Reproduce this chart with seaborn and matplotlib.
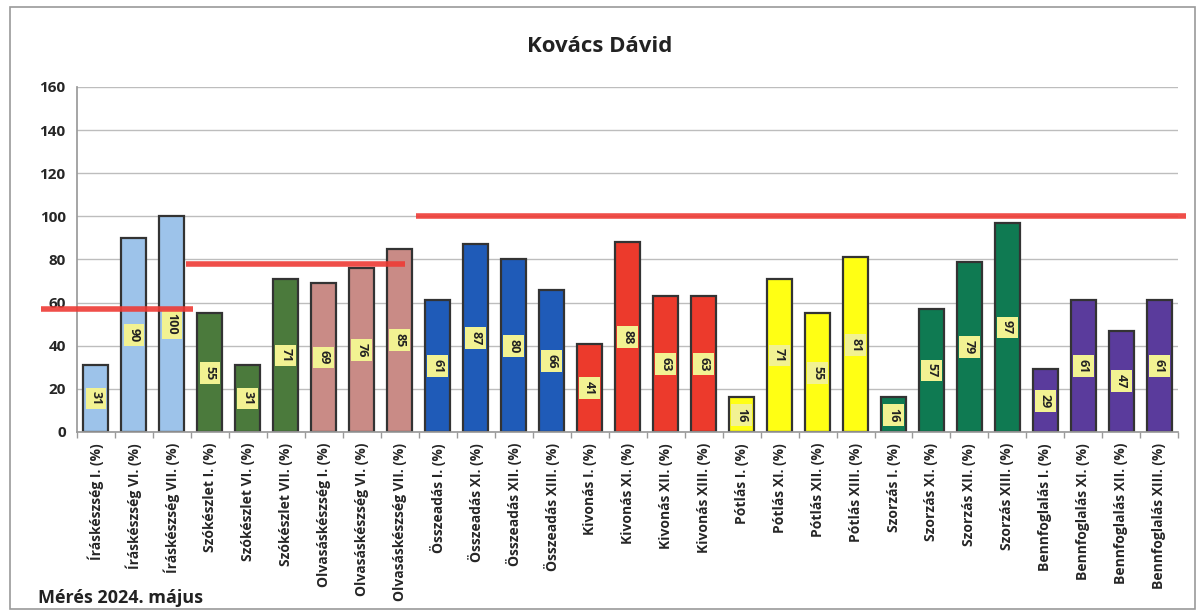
import matplotlib
matplotlib.use("Agg")
import matplotlib.pyplot as plt
import seaborn as sns
import pandas as pd
import numpy as np
from matplotlib.patches import Rectangle

categories = [
    "Íráskészség I. (%)", "Íráskészség VI. (%)", "Íráskészség VII. (%)",
    "Szókészlet I. (%)", "Szókészlet VI. (%)", "Szókészlet VII. (%)",
    "Olvasáskészség I. (%)", "Olvasáskészség VI. (%)", "Olvasáskészség VII. (%)",
    "Összeadás I. (%)", "Összeadás XI. (%)", "Összeadás XII. (%)", "Összeadás XIII. (%)",
    "Kivonás I. (%)", "Kivonás XI. (%)", "Kivonás XII. (%)", "Kivonás XIII. (%)",
    "Pótlás I. (%)", "Pótlás XI. (%)", "Pótlás XII. (%)", "Pótlás XIII. (%)",
    "Szorzás I. (%)", "Szorzás XI. (%)", "Szorzás XII. (%)", "Szorzás XIII. (%)",
    "Bennfoglalás I. (%)", "Bennfoglalás XI. (%)", "Bennfoglalás XII. (%)", "Bennfoglalás XIII. (%)",
]
values = [31, 90, 100, 55, 31, 71, 69, 76, 85, 61, 87, 80, 66, 41, 88, 63, 63,
          16, 71, 55, 81, 16, 57, 79, 97, 29, 61, 47, 61]
groups = ["iras"] * 3 + ["szo"] * 3 + ["olv"] * 3 + ["ossz"] * 4 + ["kiv"] * 4 + \
         ["pot"] * 4 + ["szor"] * 4 + ["benn"] * 4
group_colors = {
    "iras": "#9dc3ea", "szo": "#4b7a3c", "olv": "#c98b86", "ossz": "#1f5bb8",
    "kiv": "#ec3a2c", "pot": "#ffff14", "szor": "#0f7a52", "benn": "#5a3b9c",
}
# target (red) lines: (start category pos, end category pos, level)
target_levels = [57, 78, 100]
target_spans = [(-1.45, 2.55), (2.37, 8.15), (8.42, 28.7)]

title = "Kovács Dávid"
footer = "Mérés 2024. május"

sns.set_theme(style="white")
plt.rcParams["font.family"] = ["Open Sans", "DejaVu Sans"]

fig = plt.figure(figsize=(12, 6.15), dpi=100)
ax = fig.add_axes([0.064, 0.2976, 0.918, 0.561])

df = pd.DataFrame({"cat": categories, "val": values})
palette = [group_colors[g] for g in groups]
sns.barplot(data=df, x="cat", y="val", hue="cat", palette=palette, legend=False,
            width=0.65, edgecolor="#333333", linewidth=1.6, saturation=1, ax=ax)

ax.set_ylim(0, 160)
ax.set_xlim(-0.5, len(categories) - 0.5)
ax.set_yticks(range(0, 161, 20))
ax.yaxis.grid(True, color="#bdbdbd", linewidth=1)
ax.set_axisbelow(True)
for s in ["top", "right"]:
    ax.spines[s].set_visible(False)
ax.spines["left"].set_color("#9a9a9a")
ax.spines["bottom"].set_color("#9a9a9a")
ax.set_xlabel("")
ax.set_ylabel("")
ax.tick_params(axis="y", labelsize=11, length=0, pad=8)
ax.set_xticks(range(len(categories)))
ax.set_xticklabels(categories, rotation=90, fontweight="bold", fontsize=10)
ax.set_xticks(np.arange(-0.5, len(categories), 1), minor=True)
ax.tick_params(axis="x", which="major", length=0, pad=8)
ax.tick_params(axis="x", which="minor", length=4, color="#9a9a9a", bottom=True)
for t in ax.get_yticklabels():
    t.set_fontweight("bold")

# value labels
for i, v in enumerate(values):
    ax.text(i, v / 2, str(v), rotation=-90, ha="center", va="center", fontsize=9,
            fontweight="bold", color="#222222",
            bbox=dict(boxstyle="square,pad=0.3", fc="#f2f292", ec="none"))

# target lines
for (x0, x1), lvl in zip(target_spans, target_levels):
    ax.plot([x0, x1], [lvl, lvl], color="#ee3b35", linewidth=4, alpha=0.9,
            solid_capstyle="butt", clip_on=False, zorder=5)

fig.text(0.5, 0.925, title, ha="center", va="center", fontsize=16, fontweight="bold",
         color="#222222")
fig.text(0.032, 0.027, footer, ha="left", va="center", fontsize=13, fontweight="bold",
         color="#222222")

fig.patches.append(Rectangle((0.008, 0.01), 0.988, 0.978, transform=fig.transFigure,
                             fill=False, ec="#9a9a9a", lw=1.2))

fig.savefig("out.png", dpi=100)
